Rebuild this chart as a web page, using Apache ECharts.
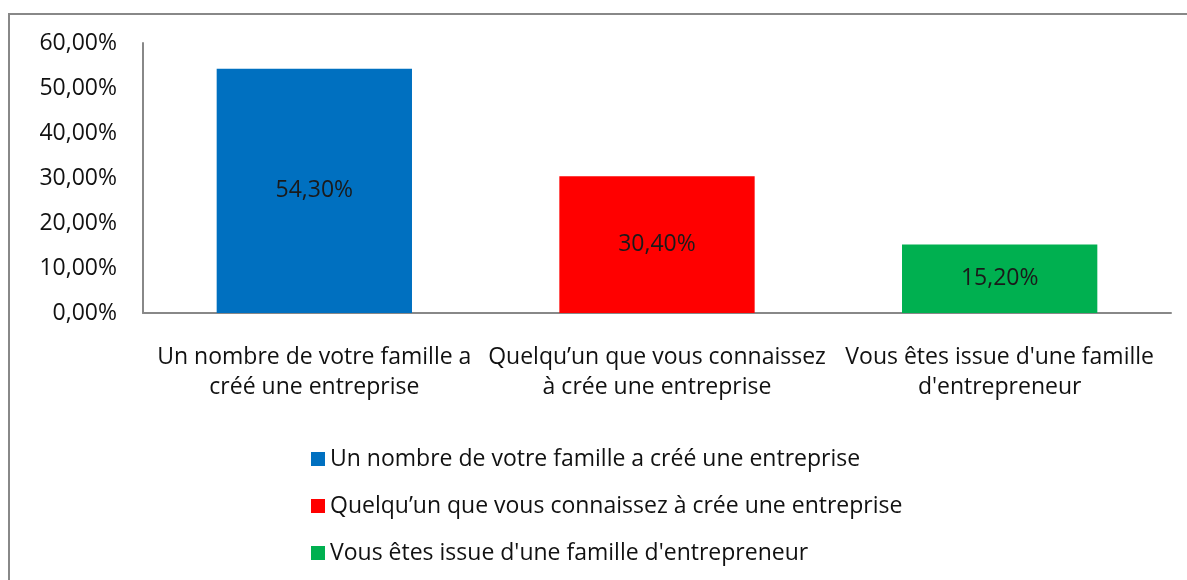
<!DOCTYPE html>
<html><head><meta charset="utf-8">
<script src="https://cdn.jsdelivr.net/npm/echarts@6/dist/echarts.min.js"></script>
<style>html,body{margin:0;padding:0;background:#fff}#c{width:1187px;height:580px}</style>
</head><body><div id="c"></div>
<script>
var categories = ["Un nombre de votre famille a créé une entreprise", "Quelqu’un que vous connaissez à crée une entreprise", "Vous êtes issue d'une famille d'entrepreneur"];
var axisLabels = ["Un nombre de votre famille a\ncréé une entreprise", "Quelqu’un que vous connaissez\nà crée une entreprise", "Vous êtes issue d'une famille\nd'entrepreneur"];
var values = [54.3, 30.4, 15.2];
var colors = ["#0070C0", "#FF0000", "#00B050"];
var yTicks = [0, 10, 20, 30, 40, 50, 60];

var FONT = "Open Sans";
var FS = 23;
var series = categories.map(function (name, i) {
  return {
    name: name, type: 'bar', barWidth: '57%', barGap: '-100%',
    itemStyle: { color: colors[i] },
    data: values.map(function (v, j) { return j === i ? v : '-'; }),
    label: { show: true, position: 'inside', color: '#1a1a1a', fontFamily: FONT, fontSize: FS,
      formatter: function (p) { return p.value.toFixed(2).replace('.', ',') + '%'; } }
  };
});
var chart = echarts.init(document.getElementById('c'), null, { renderer: 'canvas' });
chart.setOption({
  animation: false,
  graphic: [{ type: 'rect', shape: { x: 9, y: 14, width: 1300, height: 700 }, style: { fill: 'none', stroke: '#888', lineWidth: 2 }, silent: true }],
  grid: { left: 143, right: 16, top: 43, bottom: 267, containLabel: false },
  xAxis: {
    type: 'category', data: categories,
    axisLine: { lineStyle: { color: '#888', width: 2 } },
    axisTick: { show: false },
    axisLabel: { interval: 0, color: '#111', fontFamily: FONT, fontSize: FS, lineHeight: 30, margin: 29,
      formatter: function (v, i) { return axisLabels[i]; } }
  },
  yAxis: {
    type: 'value', min: yTicks[0], max: yTicks[yTicks.length - 1], interval: 10,
    axisLine: { show: true, lineStyle: { color: '#888', width: 2 } },
    axisTick: { show: false }, splitLine: { show: false },
    axisLabel: { color: '#111', fontFamily: FONT, fontSize: FS, margin: 26,
      formatter: function (v) { return v.toFixed(2).replace('.', ',') + '%'; } }
  },
  legend: {
    orient: 'vertical', left: 311, top: 447, padding: 0, itemWidth: 14, itemHeight: 14, itemGap: 23, icon: 'rect',
    textStyle: { color: '#111', fontFamily: FONT, fontSize: FS, lineHeight: 24 },
    data: categories
  },
  series: series
});
</script></body></html>
